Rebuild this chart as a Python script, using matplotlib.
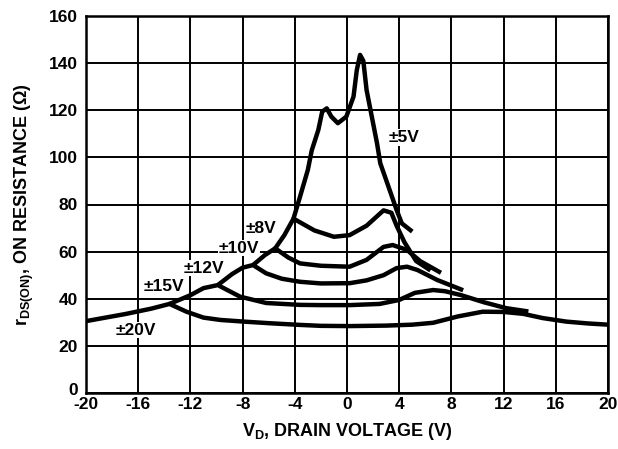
import matplotlib
matplotlib.use("Agg")
import matplotlib.pyplot as plt
import matplotlib.transforms as mtransforms

plt.rcParams['font.family'] = ['Liberation Sans', 'DejaVu Sans']
plt.rcParams['mathtext.fontset'] = 'custom'
plt.rcParams['mathtext.rm'] = 'Liberation Sans:bold'
plt.rcParams['mathtext.bf'] = 'Liberation Sans:bold'

# curves: drain voltage (V) vs on resistance (ohm)
v20 = [-20, -17, -15, -13.6, -12.3, -11, -9.7, -7.9, -5.9, -3.6, -2, 0.2, 3, 5, 6.6, 8.5, 10.4, 12, 13.5, 15, 16.8, 18.5, 20]
r20 = [30.5, 33.5, 35.8, 37.8, 34.5, 32.0, 31.0, 30.3, 29.6, 28.9, 28.5, 28.4, 28.6, 29.0, 29.8, 32.5, 34.5, 34.4, 33.6, 31.8, 30.3, 29.5, 29.0]

v15 = [-13.6, -12, -11, -9.9, -8.2, -6.2, -3.6, -2, 0.2, 2.5, 4, 5.2, 6.6, 7.5, 8.7, 10.5, 12.2, 13.9]
r15 = [37.8, 41.5, 44.5, 45.8, 40.9, 38.2, 37.4, 37.3, 37.3, 37.8, 39.5, 42.5, 43.7, 43.2, 41.6, 38.5, 36.0, 34.6]

v12 = [-9.9, -8.8, -8, -7.2, -6.2, -5, -3.6, -2, 0.2, 1.5, 2.8, 3.8, 4.6, 5.4, 6.9, 8.9]
r12 = [45.8, 50.5, 53.2, 54.3, 50.8, 48.5, 47.2, 46.5, 46.6, 47.8, 50.0, 53.0, 53.6, 52.2, 48.0, 43.6]

v10 = [-7.2, -6.3, -5.5, -4.5, -3.6, -2, 0.2, 1.5, 2.8, 3.5, 4.6, 5.6, 7.2]
r10 = [54.3, 58.5, 61.4, 57.5, 55.0, 54.0, 53.6, 56.5, 62.0, 62.8, 60.7, 56.0, 51.0]

v8 = [-5.5, -4.8, -4.1, -2.5, -1.0, 0.2, 1.5, 2.8, 3.4, 3.8, 4.4, 5.3, 6.4]
r8 = [61.4, 67.0, 74.0, 69.0, 66.3, 67.0, 71.0, 77.5, 76.5, 71.0, 64.0, 56.0, 52.0]

v5 = [-4.1, -3.6, -3.0, -2.7, -2.2, -1.9, -1.55, -1.2, -0.7, -0.05, 0.5, 0.75, 1.0, 1.25, 1.5, 1.9, 2.3, 2.55, 3.0, 3.8, 4.2, 5.0]
r5 = [74.0, 83.3, 94.7, 103.0, 111.6, 119.4, 120.8, 117.3, 114.5, 117.3, 125.8, 137.0, 143.5, 141.0, 128.6, 117.3, 106.0, 97.5, 90.4, 77.7, 72.0, 68.5]

labels = ['±5V', '±8V', '±10V', '±12V', '±15V', '±20V']
label_x = [4.4, -6.6, -8.3, -11.0, -14.0, -16.2]
label_y = [108.5, 70.0, 61.5, 53.0, 45.0, 26.7]

xticks = list(range(-20, 21, 4))
yticks = list(range(0, 161, 20))

fig = plt.figure(figsize=(6.18, 4.49), dpi=100)
ax = fig.add_axes([86 / 618, 1 - 393 / 449, 522 / 618, 377 / 449])

for v, r in [(v20, r20), (v15, r15), (v12, r12), (v10, r10), (v8, r8), (v5, r5)]:
    ax.plot(v, r, color='black', lw=3.2, solid_capstyle='butt', solid_joinstyle='round', zorder=3)

for t, x, y in zip(labels, label_x, label_y):
    ax.text(x, y, t, ha='center', va='center', fontsize=12.5, fontweight='bold', zorder=4,
            bbox=dict(facecolor='white', edgecolor='none', pad=0.5))

ax.set_xlim(-20, 20)
ax.set_ylim(0, 160)
ax.set_xticks(xticks)
ax.set_yticks(yticks)
ax.set_xticklabels([str(t) for t in xticks], fontsize=12.5, fontweight='bold')
ax.set_yticklabels([str(t) for t in yticks], fontsize=12.5, fontweight='bold')
ax.tick_params(axis='x', length=0, pad=3)
ax.tick_params(axis='y', length=0, pad=6)
# lift the "0" a little so it sits clear of the "-20" below it
zero_lbl = ax.get_yticklabels()[0]
zero_lbl.set_transform(zero_lbl.get_transform() + mtransforms.ScaledTranslation(0, 3 / 72, fig.dpi_scale_trans))
ax.grid(True, color='black', lw=1.4, zorder=1)
ax.set_axisbelow(True)
for s in ax.spines.values():
    s.set_linewidth(1.8)

ax.set_xlabel(r'V$_\mathrm{D}$, DRAIN VOLTAGE (V)', fontsize=13, fontweight='bold', labelpad=6)
ax.set_ylabel(r'r$_\mathrm{DS(ON)}$, ON RESISTANCE ($\Omega$)', fontsize=13, fontweight='bold', labelpad=9)

fig.savefig('out.png', dpi=100, facecolor='white')
